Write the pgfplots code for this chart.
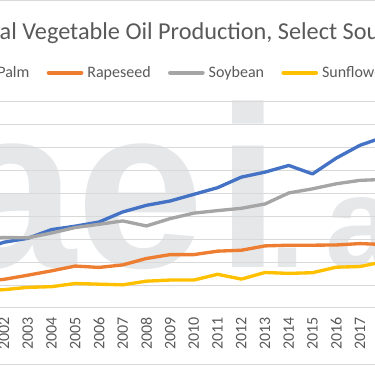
\documentclass[border=0pt]{standalone}
\usepackage{fontspec}
\setmainfont{Carlito}
\newfontfamily\wmfont{Liberation Sans}
\usepackage{pgfplots}
\pgfplotsset{compat=1.18}
\definecolor{palm}{HTML}{4472C4}
\definecolor{rape}{HTML}{ED7D31}
\definecolor{soy}{HTML}{A5A5A5}
\definecolor{sun}{HTML}{FFC000}
\definecolor{txt}{HTML}{595959}
\definecolor{gridc}{HTML}{D9D9D9}
\definecolor{wm}{HTML}{E6E7E9}
\begin{document}
\begin{tikzpicture}[x=0.75pt,y=0.75pt]
\useasboundingbox (0,0) rectangle (375,366);
\clip (0,0) rectangle (375,366);
% watermark
\node[anchor=base west, inner sep=0pt, text=wm, font=\wmfont\bfseries\fontsize{172.5pt}{172.5pt}\selectfont] at (-52,98) {a};
\node[anchor=base west, inner sep=0pt, text=wm, font=\wmfont\bfseries\fontsize{172.5pt}{172.5pt}\selectfont] at (76,98) {e};
\node[anchor=base west, inner sep=0pt, text=wm, font=\wmfont\bfseries\fontsize{172.5pt}{172.5pt}\selectfont] at (216,98) {i};
\node[anchor=base west, inner sep=0pt, text=wm, font=\wmfont\bfseries\fontsize{97.5pt}{97.5pt}\selectfont] at (269,98) {.};
\node[anchor=base west, inner sep=0pt, text=wm, font=\wmfont\bfseries\fontsize{97.5pt}{97.5pt}\selectfont] at (325,98) {a};
% chart border
\draw[gridc, line width=1pt] (-5,1.5) rectangle (380,365.2);
% title
\node[anchor=base west, inner sep=0pt, text=txt, font=\fontsize{18.2pt}{22pt}\selectfont] at (-0.5,326) {\llap{Glob}al Vegetable Oil Production, Select Sources};
\begin{axis}[
  at={(-23.7pt,43.5pt)}, anchor=south west,
  scale only axis, width=320.4pt, height=154.7pt,
  xmin=2000.5, xmax=2018.5, ymin=0, ymax=90,
  axis lines*=left,
  y axis line style={draw=none},
  x axis line style={gridc, line width=0.75pt, -},
  ytick={0,10,...,90}, yticklabels={},
  ymajorgrids, grid style={gridc, line width=0.75pt},
  major tick length=0pt,
  xtick={2001,2002,...,2018},
  xticklabels={2001,2002,2003,2004,2005,2006,2007,2008,2009,2010,2011,2012,2013,2014,2015,2016,2017,2018},
  xticklabel shift=6.5pt,
  xticklabel style={rotate=90, anchor=east, inner sep=0pt, text=txt, font=\fontsize{12pt}{14pt}\selectfont},
  every axis plot/.append style={line width=2.5pt, line cap=round, line join=round},
  legend columns=4,
  legend image code/.code={\draw[#1, line width=3pt] (0pt,0pt) -- (24.5pt,0pt);},
  legend style={at={(-0.0274,1.1406)}, anchor=west, draw=none, fill=none, inner sep=0pt, outer sep=0pt,
    font=\fontsize{12pt}{14pt}\selectfont, text=txt, nodes={inner sep=0pt},
    /tikz/every odd column/.append style={column sep=3pt},
    /tikz/every even column/.append style={column sep=13pt}},
]
\addplot[palm] coordinates {(2001,25.2)(2002,28.7)(2003,30.4)(2004,34.2)(2005,35.7)(2006,37.5)(2007,41.9)(2008,44.8)(2009,46.7)(2010,49.6)(2011,52.5)(2012,57.1)(2013,59.3)(2014,62.2)(2015,58.5)(2016,65.4)(2017,71.0)(2018,74.6)};
\addlegendentry{Palm}
\addplot[rape] coordinates {(2001,11.5)(2002,12.5)(2003,14.3)(2004,16.2)(2005,18.3)(2006,17.7)(2007,18.8)(2008,21.6)(2009,23.3)(2010,23.3)(2011,24.8)(2012,25.2)(2013,27.1)(2014,27.4)(2015,27.4)(2016,27.5)(2017,28.1)(2018,27.7)};
\addlegendentry{Rapeseed}
\addplot[soy] coordinates {(2001,30.0)(2002,30.8)(2003,30.6)(2004,32.7)(2005,35.1)(2006,36.5)(2007,38.0)(2008,35.8)(2009,39.0)(2010,41.4)(2011,42.5)(2012,43.5)(2013,45.4)(2014,50.2)(2015,52.0)(2016,54.2)(2017,55.7)(2018,56.1)};
\addlegendentry{Soybean}
\addplot[sun] coordinates {(2001,7.4)(2002,8.0)(2003,9.0)(2004,9.3)(2005,10.7)(2006,10.4)(2007,10.1)(2008,11.7)(2009,12.2)(2010,12.2)(2011,14.7)(2012,12.6)(2013,15.5)(2014,15.1)(2015,15.4)(2016,17.8)(2017,18.1)(2018,20.2)};
\addlegendentry{Sunflower}
\end{axis}
\end{tikzpicture}
\end{document}
